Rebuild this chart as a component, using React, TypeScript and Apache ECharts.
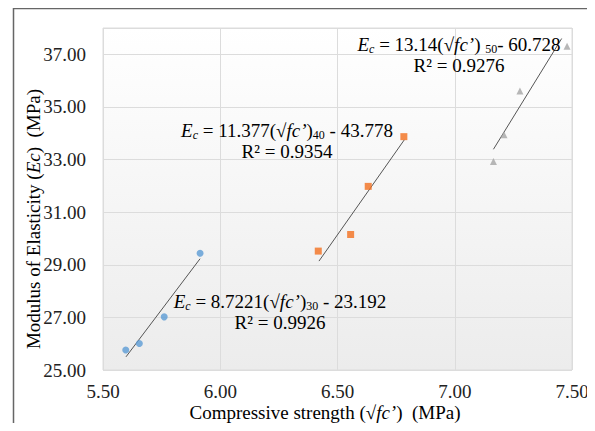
import React, { useEffect, useRef } from "react";
import * as echarts from "echarts";

// Scatter data: [sqrt(fc'), Ec]
const group30: [number, number][] = [
  [5.597, 25.76],
  [5.655, 26.01],
  [5.761, 27.02],
  [5.914, 29.44],
];
const group40: [number, number][] = [
  [6.418, 29.52],
  [6.556, 30.15],
  [6.631, 31.98],
  [6.783, 33.87],
];
const group50: [number, number][] = [
  [7.165, 32.93],
  [7.21, 33.94],
  [7.278, 35.61],
  [7.479, 37.31],
];
// Trendline end points
const trend30: [number, number][] = [
  [5.598, 25.5],
  [5.914, 29.23],
];
const trend40: [number, number][] = [
  [6.421, 29.14],
  [6.785, 33.75],
];
const trend50: [number, number][] = [
  [7.165, 33.39],
  [7.456, 37.6],
];
const xTicks = { min: 5.5, max: 7.5, interval: 0.5 };
const yTicks = { min: 25, max: 38, interval: 2 };

const FONT = "'Liberation Serif', 'Times New Roman', serif";

const rich = {
  n: { fontFamily: FONT, fontSize: 19, color: "#111", lineHeight: 21 },
  i: { fontFamily: FONT, fontSize: 19, fontStyle: "italic", color: "#111", lineHeight: 21 },
  sub: { fontFamily: FONT, fontSize: 12, color: "#111", lineHeight: 11, verticalAlign: "bottom" },
  subi: { fontFamily: FONT, fontSize: 12, fontStyle: "italic", color: "#111", lineHeight: 11, verticalAlign: "bottom" },
};
const titleRich = {
  n: { fontFamily: FONT, fontSize: 19, color: "#111", lineHeight: 16 },
  i: { fontFamily: FONT, fontSize: 19, fontStyle: "italic", color: "#111", lineHeight: 16 },
};

function eqText(coef: string, sub: string, intercept: string, r2: string) {
  return (
    `{i|E}{subi|c}{n| = ${coef}(√}{i|fc’}{n|)}{sub|${sub}}{n| - ${intercept}}\n` +
    `{n|R² = ${r2}}`
  );
}

export default function App() {
  const ref = useRef<HTMLDivElement>(null);
  useEffect(() => {
    if (!ref.current) return;
    const chart = echarts.init(ref.current, undefined, { renderer: "svg" });
    const trendStyle = { color: "#555", width: 1 };
    chart.setOption({
      animation: false,
      backgroundColor: "#fff",
      grid: {
        left: 103,
        top: 28,
        right: 23,
        bottom: 61,
        show: true,
        borderColor: "#dcdcdc",
        borderWidth: 1,
        backgroundColor: new echarts.graphic.LinearGradient(0, 0, 0, 1, [
          { offset: 0, color: "#ffffff" },
          { offset: 1, color: "#ececec" },
        ]),
      },
      xAxis: {
        type: "value",
        min: xTicks.min,
        max: xTicks.max,
        interval: xTicks.interval,
        axisLine: { show: false },
        axisTick: { show: false },
        splitLine: { show: true, lineStyle: { color: "#dcdcdc", width: 1 } },
        axisLabel: {
          margin: 14,
          fontFamily: FONT,
          fontSize: 19,
          lineHeight: 15,
          color: "#222",
          formatter: (v: number) => v.toFixed(2),
        },
      },
      yAxis: {
        type: "value",
        min: yTicks.min,
        max: yTicks.max,
        interval: yTicks.interval,
        axisLine: { show: false },
        axisTick: { show: false },
        splitLine: { show: true, lineStyle: { color: "#dcdcdc", width: 1 } },
        axisLabel: {
          margin: 17,
          fontFamily: FONT,
          fontSize: 19,
          color: "#222",
          showMaxLabel: false,
          formatter: (v: number) => (v > 37.5 ? "" : v.toFixed(2)),
        },
      },
      series: [
        { type: "line", data: trend30, showSymbol: false, lineStyle: trendStyle, z: 2 },
        { type: "line", data: trend40, showSymbol: false, lineStyle: trendStyle, z: 2 },
        { type: "line", data: trend50, showSymbol: false, lineStyle: trendStyle, z: 2 },
        {
          type: "scatter",
          data: group30,
          symbol: "circle",
          symbolSize: 7,
          itemStyle: { color: "#5B9BD5" },
          z: 3,
        },
        {
          type: "scatter",
          data: group40,
          symbol: "rect",
          symbolSize: 7,
          itemStyle: { color: "#F36F1E" },
          z: 3,
        },
        {
          type: "scatter",
          data: group50,
          symbol: "triangle",
          symbolSize: 7,
          itemStyle: { color: "#A5A5A5" },
          z: 3,
        },
      ],
      graphic: [
        {
          type: "polyline",
          shape: { points: [[13.5, 431], [13.5, 8.5], [595, 8.5]] },
          style: { stroke: "#666", lineWidth: 1.5, fill: null },
          silent: true,
        },
        {
          type: "text",
          x: 280,
          y: 291,
          z: 10,
          style: {
            text: eqText("8.7221", "30", "23.192", "0.9926"),
            rich,
            align: "center",
            verticalAlign: "top",
          },
        },
        {
          type: "text",
          x: 287,
          y: 120,
          z: 10,
          style: {
            text: eqText("11.377", "40", "43.778", "0.9354"),
            rich,
            align: "center",
            verticalAlign: "top",
          },
        },
        {
          type: "text",
          x: 459,
          y: 34,
          z: 10,
          style: {
            text:
              `{i|E}{subi|c}{n| = 13.14(√}{i|fc’}{n|) }{sub|50}{n|- 60.728}\n` +
              `{n|R² = 0.9276}`,
            rich,
            align: "center",
            verticalAlign: "top",
          },
        },
        {
          type: "text",
          x: 325,
          y: 412,
          style: {
            text: "{n|Compressive strength (√}{i|fc’}{n|)  (MPa)}",
            rich: titleRich,
            align: "center",
            verticalAlign: "middle",
          },
        },
        {
          type: "text",
          x: 33,
          y: 219,
          rotation: Math.PI / 2,
          style: {
            text: "{n|Modulus of Elasticity (}{i|Ec}{n|)  (MPa)}",
            rich: titleRich,
            align: "center",
            verticalAlign: "middle",
          },
        },
      ],
    });
    return () => chart.dispose();
  }, []);
  return <div ref={ref} style={{ width: 595, height: 431, margin: -8 }} />;
}
